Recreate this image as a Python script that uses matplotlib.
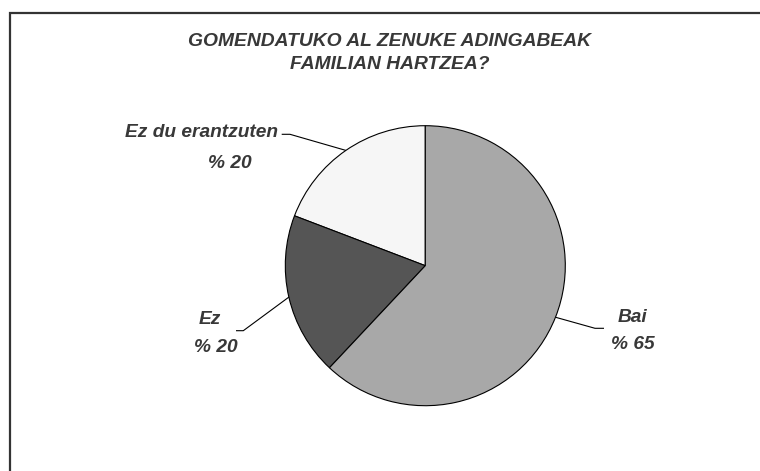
import numpy as np
import matplotlib
matplotlib.use("Agg")
import matplotlib.pyplot as plt

# data
title_lines = ["GOMENDATUKO AL ZENUKE ADINGABEAK", "FAMILIAN HARTZEA?"]
categories = ["Ez du erantzuten", "Ez", "Bai"]
shares = [19.2, 18.8, 62.0]        # wedge sizes from the slice angles
pct_labels = ["% 20", "% 20", "% 65"]
colors = ["#f6f6f6", "#555555", "#a8a8a8"]

W, H = 760, 471
fig = plt.figure(figsize=(W / 100, H / 100), dpi=100)
ax = fig.add_axes([0, 0, 1, 1])

cx, cy, r = 425.3, H - 265.7, 140
wedges, _ = ax.pie(shares, colors=colors, startangle=90, counterclock=True,
                   center=(cx, cy), radius=r,
                   wedgeprops=dict(edgecolor="black", linewidth=0.8))
ax.set_xlim(0, W)
ax.set_ylim(0, H)
ax.set_aspect("equal")
ax.axis("off")

font = dict(family=["Liberation Sans", "DejaVu Sans"], weight="bold",
            style="italic", color="#383838")

# title, baselines in pixels from the top
for line, base in zip(title_lines, [46, 69]):
    ax.text(389.5, H - base, line, ha="center", va="baseline", size=13.9, **font)

# label layout: name pos, pct pos, elbow of leader, end of leader (pixels from top)
layout = [
    dict(name=(278, 137, "right"), pct=(229.5, 168), elbow=(290, 134.3), end=(281.7, 134.3)),
    dict(name=(210, 324, "center"), pct=(216, 351.7), elbow=(243.3, 330.7), end=(236, 330.7)),
    dict(name=(632.5, 322, "center"), pct=(632.5, 349), elbow=(595, 328.3), end=(604, 328.3)),
]

for w, name, pct, lay in zip(wedges, categories, pct_labels, layout):
    mid = np.deg2rad((w.theta1 + w.theta2) / 2)
    px, py = cx + r * np.cos(mid), cy + r * np.sin(mid)
    ex, ey = lay["elbow"]
    fx, fy = lay["end"]
    ax.plot([px, ex, fx], [py, H - ey, H - fy], color="black", lw=0.8,
            solid_capstyle="butt")
    nx, ny, ha = lay["name"]
    ax.text(nx, H - ny, name, ha=ha, va="baseline", size=13.8, **font)
    ax.text(lay["pct"][0], H - lay["pct"][1], pct, ha="center", va="baseline",
            size=13.8, **font)

# frame lines along the left and top
ax.plot([9.5, 9.5, W], [0, H - 12.5, H - 12.5], color="#333333", lw=1.6,
        solid_joinstyle="miter", clip_on=False)

fig.savefig("out.png", dpi=100, facecolor="white")
